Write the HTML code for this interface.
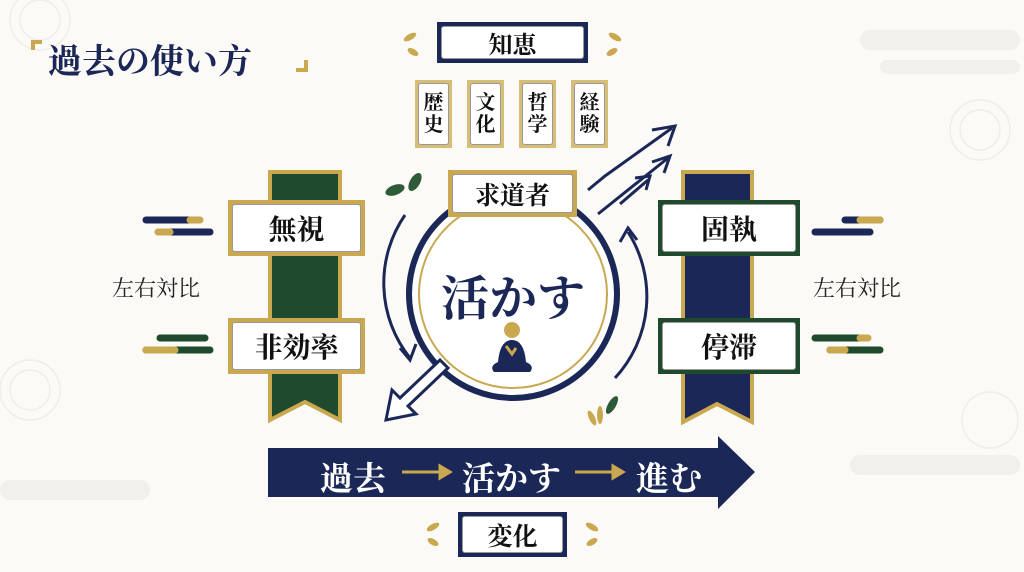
<!DOCTYPE html>
<html><head><meta charset="utf-8"><style>
body{margin:0;width:1024px;height:572px;overflow:hidden;background:#fbfaf7;font-family:"Liberation Serif","Noto Serif CJK SC","Noto Sans CJK JP",serif;}
.a{position:absolute;}
.lbl{position:absolute;display:flex;align-items:center;justify-content:center;color:#111;box-sizing:border-box;}
.inner{position:absolute;inset:4px;background:#fff;border:1.5px solid #999;border-radius:3px;}
.t{position:relative;}
</style></head><body>
<svg class="a" style="left:0;top:0" width="1024" height="572">
<!-- faint bg patterns -->
<g fill="none" stroke="#efede6" stroke-width="1.5">
<circle cx="40" cy="20" r="30"/><circle cx="40" cy="20" r="20"/><circle cx="980" cy="130" r="30"/><circle cx="980" cy="130" r="20"/>
<circle cx="30" cy="390" r="30"/><circle cx="30" cy="390" r="20"/><circle cx="990" cy="420" r="28"/>
</g>
<rect x="860" y="30" width="160" height="20" rx="10" fill="#f2f0ea"/><rect x="880" y="60" width="140" height="14" rx="7" fill="#f2f0ea"/>
<rect x="850" y="455" width="170" height="20" rx="10" fill="#f2f0ea"/><rect x="0" y="480" width="150" height="20" rx="10" fill="#f2f0ea"/>
<!-- title brackets -->
<path d="M33 50 V42 H42" stroke="#c9a84f" stroke-width="4" fill="none"/>
<path d="M306 60 V70 H296" stroke="#c9a84f" stroke-width="4" fill="none"/>
<!-- ribbons -->
<path d="M270 172 H340 V420 L305 402 L270 420Z" fill="#1f4a2e" stroke="#c9a84f" stroke-width="4"/>
<path d="M683 172 H752 V422 L717 404 L683 422Z" fill="#1b2757" stroke="#c9a84f" stroke-width="4"/>
<!-- clouds -->
<g stroke-linecap="round" stroke-width="7">
<line x1="146" y1="220" x2="195" y2="220" stroke="#1b2757"/><line x1="160" y1="232" x2="210" y2="232" stroke="#1b2757"/><line x1="190" y1="220" x2="200" y2="220" stroke="#c9a84f"/><line x1="158" y1="232" x2="170" y2="232" stroke="#c9a84f"/>
<line x1="160" y1="338" x2="205" y2="338" stroke="#1f4a2e"/><line x1="146" y1="350" x2="210" y2="350" stroke="#1f4a2e"/><line x1="146" y1="350" x2="175" y2="350" stroke="#c9a84f"/>
<line x1="815" y1="232" x2="870" y2="232" stroke="#1b2757"/><line x1="845" y1="220" x2="880" y2="220" stroke="#1b2757"/><line x1="860" y1="220" x2="880" y2="220" stroke="#c9a84f"/>
<line x1="815" y1="338" x2="865" y2="338" stroke="#1f4a2e"/><line x1="830" y1="350" x2="880" y2="350" stroke="#1f4a2e"/><line x1="830" y1="350" x2="845" y2="350" stroke="#c9a84f"/><line x1="860" y1="338" x2="868" y2="338" stroke="#c9a84f"/>
</g>
<!-- circle -->
<circle cx="513" cy="294" r="104" fill="#fff" stroke="#1b2757" stroke-width="6"/>
<circle cx="513" cy="294" r="94" fill="none" stroke="#c9a84f" stroke-width="2"/>
<!-- curved arrows -->
<path d="M405 215 A120 120 0 0 0 410 358" fill="none" stroke="#1b2757" stroke-width="3"/>
<path d="M400 348 L410 360 L416 344" fill="none" stroke="#1b2757" stroke-width="3"/>
<path d="M615 378 A120 120 0 0 0 628 232" fill="none" stroke="#1b2757" stroke-width="3"/>
<path d="M620 242 L628 228 L637 240" fill="none" stroke="#1b2757" stroke-width="3"/>
<!-- top right double arrows -->
<g fill="none" stroke="#1b2757" stroke-width="3">
<path d="M588 190 L605 176 L672 128"/><path d="M652 130 L675 126 L668 146"/>
<path d="M598 214 L668 158"/><path d="M652 162 L670 156 L664 173"/>
<path d="M620 204 L648 180"/><path d="M635 178 L650 176 L646 190"/>
</g>
<!-- bottom left double arrow -->
<path d="M440 360 L400 398 L392 390 L386 420 L416 414 L408 406 L448 368Z" fill="#fff" stroke="#1b2757" stroke-width="3"/>
<!-- buddha -->
<circle cx="512" cy="330" r="8" fill="#c9a84f"/>
<path d="M498 362 Q500 340 512 340 Q524 340 526 362 Q535 366 530 372 H494 Q489 366 498 362Z" fill="#1b2757"/>
<path d="M506 346 L512 354 L516 348" stroke="#c9a84f" stroke-width="3" fill="none"/>
<!-- leaves -->
<g fill="#c9a84f">
<ellipse cx="410" cy="37" rx="7" ry="3" transform="rotate(-30 410 37)"/><ellipse cx="413" cy="52" rx="6" ry="3" transform="rotate(30 413 52)"/><ellipse cx="615" cy="37" rx="7" ry="3" transform="rotate(30 615 37)"/><ellipse cx="612" cy="52" rx="6" ry="3" transform="rotate(-30 612 52)"/>
<ellipse cx="433" cy="527" rx="7" ry="3" transform="rotate(-30 433 527)"/><ellipse cx="433" cy="542" rx="6" ry="3" transform="rotate(30 433 542)"/><ellipse cx="592" cy="527" rx="7" ry="3" transform="rotate(30 592 527)"/><ellipse cx="592" cy="542" rx="6" ry="3" transform="rotate(-30 592 542)"/>
<ellipse cx="600" cy="415" rx="3" ry="9"/><ellipse cx="592" cy="418" rx="3" ry="8" transform="rotate(-25 592 418)"/>
</g>
<g fill="#2e5a3a"><ellipse cx="395" cy="190" rx="10" ry="5" transform="rotate(-20 395 190)"/><ellipse cx="415" cy="182" rx="10" ry="5" transform="rotate(-60 415 182)"/><ellipse cx="612" cy="405" rx="4" ry="10" transform="rotate(30 612 405)"/></g>
<!-- bottom arrow -->
<path d="M268 448 H718 V436 L755 472 L718 509 V497 H268Z" fill="#1b2757"/>
<g stroke="#c9a84f" stroke-width="3" fill="#c9a84f"><line x1="402" y1="472" x2="440" y2="472"/><path d="M440 466 L450 472 L440 478Z"/><line x1="575" y1="472" x2="613" y2="472"/><path d="M613 466 L623 472 L613 478Z"/></g>
</svg>
<div class="a" style="left:48px;top:34px;font-size:34px;font-weight:bold;color:#1b2757;">過去の使い方</div>
<div class="lbl" style="left:437px;top:22px;width:151px;height:41px;background:#1b2757;"><div class="inner"></div><span class="t" style="font-size:24px;font-weight:bold">知恵</span></div>
<div class="lbl" style="left:415px;top:80px;width:37px;height:68px;background:#d6bd78;"><div class="inner" style="inset:3px"></div><span class="t" style="font-size:20px;line-height:22px;width:20px;font-weight:bold">歴史</span></div>
<div class="lbl" style="left:467px;top:80px;width:37px;height:68px;background:#d6bd78;"><div class="inner" style="inset:3px"></div><span class="t" style="font-size:20px;line-height:22px;width:20px;font-weight:bold">文化</span></div>
<div class="lbl" style="left:519px;top:80px;width:37px;height:68px;background:#d6bd78;"><div class="inner" style="inset:3px"></div><span class="t" style="font-size:20px;line-height:22px;width:20px;font-weight:bold">哲学</span></div>
<div class="lbl" style="left:571px;top:80px;width:37px;height:68px;background:#d6bd78;"><div class="inner" style="inset:3px"></div><span class="t" style="font-size:20px;line-height:22px;width:20px;font-weight:bold">経験</span></div>
<div class="lbl" style="left:448px;top:170px;width:129px;height:47px;background:#c9a84f;"><div class="inner"></div><span class="t" style="font-size:25px;font-weight:bold">求道者</span></div>
<div class="a" style="left:432px;top:260px;width:162px;text-align:center;font-size:48px;font-weight:bold;color:#1b2757;">活かす</div>
<div class="lbl" style="left:228px;top:200px;width:137px;height:56px;background:#c9a84f;"><div class="inner"></div><span class="t" style="font-size:28px;font-weight:bold">無視</span></div>
<div class="lbl" style="left:228px;top:318px;width:137px;height:56px;background:#c9a84f;"><div class="inner"></div><span class="t" style="font-size:28px;font-weight:bold">非効率</span></div>
<div class="lbl" style="left:658px;top:200px;width:142px;height:56px;background:#1f4a2e;"><div class="inner"></div><span class="t" style="font-size:28px;font-weight:bold">固執</span></div>
<div class="lbl" style="left:658px;top:318px;width:142px;height:56px;background:#1f4a2e;"><div class="inner"></div><span class="t" style="font-size:28px;font-weight:bold">停滞</span></div>
<div class="a" style="left:112px;top:272px;font-size:22px;color:#222;">左右対比</div>
<div class="a" style="left:813px;top:272px;font-size:22px;color:#222;">左右対比</div>
<div class="a" style="left:320px;top:453px;font-size:33px;font-weight:bold;color:#fff;">過去</div>
<div class="a" style="left:462px;top:453px;font-size:33px;font-weight:bold;color:#fff;">活かす</div>
<div class="a" style="left:636px;top:453px;font-size:33px;font-weight:bold;color:#fff;">進む</div>
<div class="lbl" style="left:458px;top:512px;width:109px;height:45px;background:#1b2757;"><div class="inner"></div><span class="t" style="font-size:25px;font-weight:bold">変化</span></div>
</body></html>
